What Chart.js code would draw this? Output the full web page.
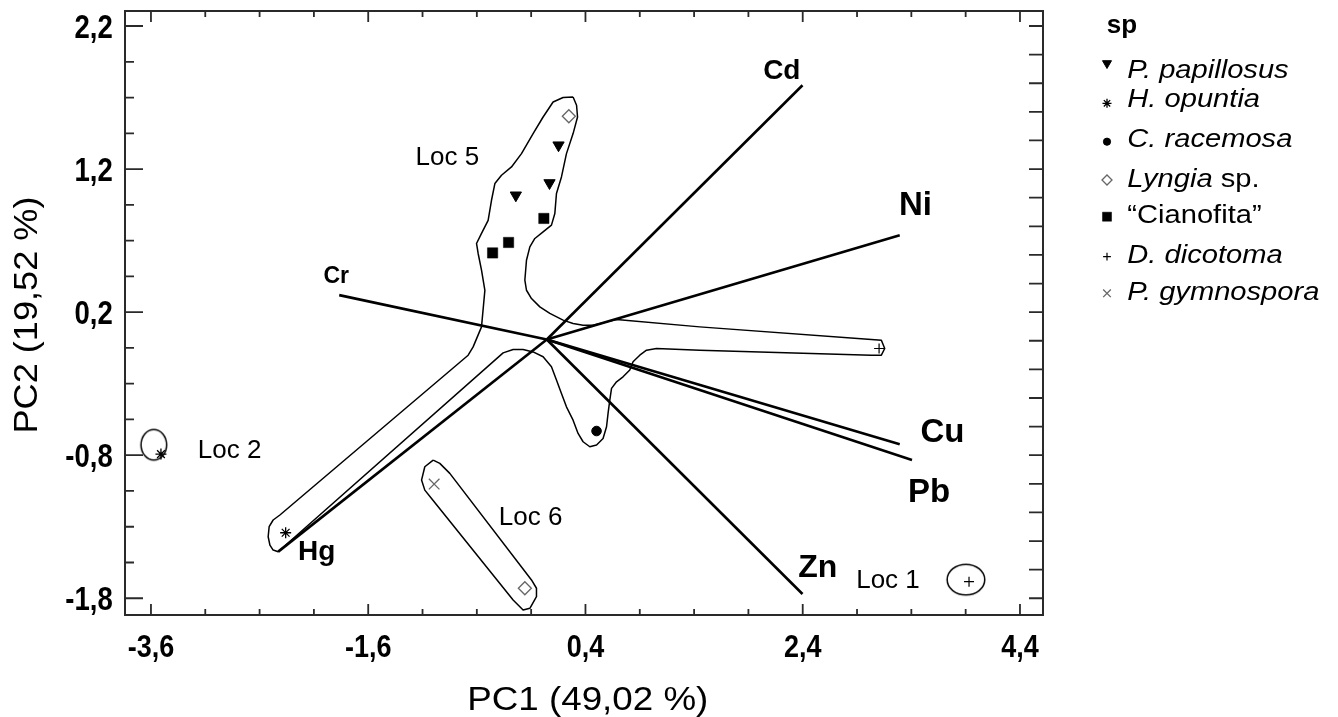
<!DOCTYPE html>
<html>
<head>
<meta charset="utf-8">
<script src="https://cdn.jsdelivr.net/npm/chart.js@4.4.1/dist/chart.umd.min.js"></script>
<style>
html,body{margin:0;padding:0;background:#fff;}
canvas{display:block;}
</style>
</head>
<body>
<canvas id="c" width="1338" height="717"></canvas>
<script>
// ---------------- data ----------------
const xTicks = [-3.6, -1.6, 0.4, 2.4, 4.4];
const yTicks = [2.2, 1.2, 0.2, -0.8, -1.8];
const xTitle = 'PC1 (49,02 %)';
const yTitle = 'PC2 (19,52 %)';
const legendTitle = 'sp';

const speciesNames = ['P. papillosus', 'H. opuntia', 'C. racemosa', 'Lyngia sp.', '\u201CCianofita\u201D', 'D. dicotoma', 'P. gymnospora'];
const papillosusX = [0.152, 0.069, -0.241];
const papillosusY = [1.367, 1.103, 1.017];
const opuntiaX = [-3.508, -2.360];
const opuntiaY = [-0.792, -1.342];
const racemosaX = [0.502];
const racemosaY = [-0.631];
const lyngiaX = [0.247, -0.158];
const lyngiaY = [1.569, -1.730];
const cianofitaX = [0.017, -0.308, -0.455];
const cianofitaY = [0.855, 0.687, 0.614];
const dicotomaX = [3.103, 3.931];
const dicotomaY = [-0.054, -1.684];
const gymnosporaX = [-0.993];
const gymnosporaY = [-1.002];

// variable loadings (vectors)
const variables = ['Cd', 'Ni', 'Cr', 'Cu', 'Pb', 'Zn', 'Hg'];
const loadX = [2.398, 3.293, -1.867, 3.293, 3.406, 2.398, -2.428];
const loadY = [1.786, 0.738, 0.319, -0.724, -0.834, -1.770, -1.474];
const originX = 0.044;
const originY = 0.009;

// group outlines
const loc5HullX = [0.286,0.318,0.327,0.286,0.225,0.179,0.133,0.118,0.087,0.010,-0.066,-0.112,-0.143,-0.158,-0.143,-0.097,-0.020,0.072,0.194,0.286,0.378,0.470,0.594,0.686,1.452,3.032,3.124,3.155,3.124,3.032,1.452,1.054,0.962,0.900,0.838,0.808,0.746,0.686,0.640,0.624,0.608,0.594,0.562,0.502,0.440,0.378,0.332,0.286,0.225,0.179,0.133,0.087,0.010,-0.082,-0.174,-0.266,-0.358,-2.429,-2.475,-2.505,-2.521,-2.512,-2.475,-2.413,-0.680,-0.634,-0.557,-0.526,-0.557,-0.588,-0.603,-0.557,-0.496,-0.465,-0.434,-0.373,-0.281,-0.189,-0.082,0.010,0.102,0.194];
const loc5HullY = [1.704,1.646,1.564,1.448,1.308,1.145,1.029,0.889,0.808,0.761,0.715,0.656,0.563,0.423,0.353,0.295,0.237,0.191,0.144,0.121,0.109,0.109,0.132,0.149,0.097,0.009,0.004,-0.054,-0.101,-0.101,-0.066,-0.054,-0.066,-0.101,-0.147,-0.205,-0.252,-0.287,-0.333,-0.415,-0.508,-0.601,-0.683,-0.729,-0.741,-0.706,-0.648,-0.555,-0.462,-0.368,-0.275,-0.182,-0.112,-0.078,-0.061,-0.061,-0.085,-1.475,-1.463,-1.428,-1.370,-1.300,-1.253,-1.218,-0.101,-0.043,0.097,0.353,0.493,0.610,0.680,0.750,0.842,0.982,1.099,1.157,1.215,1.308,1.448,1.564,1.669,1.700];
const loc6HullX = [-1.002,-0.941,-0.849,-0.097,-0.051,-0.051,-0.112,-0.174,-0.266,-1.017,-1.079,-1.109,-1.079];
const loc6HullY = [-0.834,-0.857,-0.927,-1.672,-1.730,-1.789,-1.870,-1.882,-1.812,-1.102,-1.044,-0.974,-0.881];
const locRingX = [-3.574, 3.902];
const locRingY = [-0.727, -1.670];

// location labels (centre x, baseline y in data units)
const locNames = ['Loc 5', 'Loc 2', 'Loc 6', 'Loc 1'];
const locLabelX = [-0.872, -2.876, -0.105, 3.185];
const locLabelY = [1.227, -0.822, -1.288, -1.730];

// ---------------- styles ----------------
const FONT = "'Liberation Sans', Arial, Helvetica, sans-serif";
const axisRange = {xMin: -3.839, xMax: 4.612, yMin: -1.917, yMax: 2.305};
const ringSize = [[12.8, 15.3], [18.8, 15.3]];
const vecLabelStyle = {
  Cd: {dx: -20.7, dy: -6.7, size: 28},
  Ni: {dx: 15.8, dy: -20, size: 33},
  Cr: {dx: -3, dy: -11.7, size: 23},
  Cu: {dx: 42.8, dy: -2.6, size: 33},
  Pb: {dx: 17.2, dy: 41.7, size: 33},
  Zn: {dx: 15.3, dy: -17.3, size: 32},
  Hg: {dx: 38.4, dy: 8.3, size: 28}
};
const tickLabelStyle = {
  y: {size: 34, sx: 0.81, right: 112.7, dy: 11.5},
  x: {size: 31, sx: 0.87, baseline: 656.7}
};
const speciesStyle = [
  {ps: 'triangle', rot: 180, r: 6.5, lr: 5.2, bg: '#000', bc: '#000', bw: 1},
  {ps: 'star', rot: 0, r: 5.5, lr: 4.5, bg: '#000', bc: '#000', bw: 1.3},
  {ps: 'circle', rot: 0, r: 4.8, lr: 3.6, bg: '#000', bc: '#000', bw: 1},
  {ps: 'rectRot', rot: 0, r: 6.5, lr: 5, bg: '#fff', bc: '#666', bw: 1.3},
  {ps: 'rect', rot: 0, r: 7.3, lr: 6.4, bg: '#000', bc: '#000', bw: 0.5},
  {ps: 'cross', rot: 0, r: 5, lr: 3.9, bg: '#000', bc: '#000', bw: 1.2},
  {ps: 'crossRot', rot: 0, r: 7.5, lr: 5.4, bg: '#666', bc: '#666', bw: 1.3}
];
const legendLayout = {
  titleX: 1106.7, titleY: 33.3,
  markerX: 1107,
  markerY: [63.3, 103.3, 141.7, 180, 216.7, 256.7, 293.3],
  textX: 1127.3,
  baseY: [78.3, 106.7, 146.7, 186.7, 223.3, 263.3, 300],
  size: 26, sx: 1.12
};
const legendParts = [
  [['P. papillosus', true]],
  [['H. opuntia', true]],
  [['C. racemosa', true]],
  [['Lyngia', true], [' sp.', false]],
  [['\u201CCianofita\u201D', false]],
  [['D. dicotoma', true]],
  [['P. gymnospora', true]]
];

// ---------------- helpers ----------------
function pts(xs, ys) { return xs.map((x, i) => ({x: x, y: ys[i]})); }
function closed(xs, ys) { const p = pts(xs, ys); p.push(p[0]); return p; }
function fmt(v) { return (Math.round(v * 10) / 10).toFixed(1).replace('.', ','); }
function ellipseImage(rx, ry) {
  const c = document.createElement('canvas');
  c.width = Math.ceil(2 * rx + 4);
  c.height = Math.ceil(2 * ry + 4);
  const g = c.getContext('2d');
  g.strokeStyle = '#000';
  g.lineWidth = 1.5;
  g.beginPath();
  g.ellipse(c.width / 2, c.height / 2, rx, ry, 0, 0, Math.PI * 2);
  g.stroke();
  return c;
}

const speciesX = [papillosusX, opuntiaX, racemosaX, lyngiaX, cianofitaX, dicotomaX, gymnosporaX];
const speciesY = [papillosusY, opuntiaY, racemosaY, lyngiaY, cianofitaY, dicotomaY, gymnosporaY];

const hullStyle = {showLine: true, borderColor: '#000', borderWidth: 1.5, pointRadius: 0, fill: false, tension: 0, borderJoinStyle: 'round'};

const datasets = [];
datasets.push(Object.assign({label: 'Loc 5 outline', data: closed(loc5HullX, loc5HullY)}, hullStyle));
datasets.push(Object.assign({label: 'Loc 6 outline', data: closed(loc6HullX, loc6HullY)}, hullStyle));
datasets.push({
  label: 'Loc rings', data: pts(locRingX, locRingY), showLine: false,
  pointStyle: ringSize.map(s => ellipseImage(s[0], s[1])), pointRadius: 10
});
variables.forEach((v, i) => {
  datasets.push({
    label: v, data: [{x: originX, y: originY}, {x: loadX[i], y: loadY[i]}],
    showLine: true, borderColor: '#000', borderWidth: 2.6, pointRadius: 0, borderCapStyle: 'butt'
  });
});
speciesNames.forEach((name, i) => {
  const s = speciesStyle[i];
  datasets.push({
    label: name, data: pts(speciesX[i], speciesY[i]), showLine: false,
    pointStyle: s.ps, rotation: s.rot, pointRadius: s.r,
    pointBackgroundColor: s.bg, pointBorderColor: s.bc, pointBorderWidth: s.bw,
    backgroundColor: s.bg, borderColor: s.bc
  });
});

// ---------------- plugins ----------------
const framePlugin = {
  id: 'frame',
  afterDatasetsDraw(chart) {
    const {ctx, chartArea: a, scales: {x, y}} = chart;
    ctx.save();
    ctx.strokeStyle = '#2a2a2a';
    ctx.lineWidth = 2;
    ctx.strokeRect(a.left, a.top, a.right - a.left, a.bottom - a.top);
    ctx.lineWidth = 1.8;
    ctx.beginPath();
    for (let k = 0; k <= 16; k++) {
      const py = y.getPixelForValue(2.2 - k * 0.25);
      const len = (k % 4 === 0) ? 18 : 9;
      ctx.moveTo(a.left, py); ctx.lineTo(a.left + len, py);
    }
    for (let k = 0; k <= 20; k++) {
      const py = y.getPixelForValue(-1.8 + k * 0.2);
      ctx.moveTo(a.right, py); ctx.lineTo(a.right - 14, py);
    }
    for (let k = 0; k <= 16; k++) {
      const px = x.getPixelForValue(-3.6 + k * 0.5);
      const len = (k % 4 === 0) ? 11 : 6;
      ctx.moveTo(px, a.bottom); ctx.lineTo(px, a.bottom - len);
      ctx.moveTo(px, a.top); ctx.lineTo(px, a.top + len);
    }
    ctx.stroke();
    ctx.restore();
  },
  afterDraw(chart) {
    const {ctx, scales: {x, y}} = chart;
    ctx.save();
    ctx.fillStyle = '#000';
    // tick labels (condensed bold, from the scales' own ticks)
    const ty = tickLabelStyle.y, tx = tickLabelStyle.x;
    ctx.font = 'bold ' + ty.size + 'px ' + FONT;
    ctx.textAlign = 'right';
    ctx.textBaseline = 'alphabetic';
    y.ticks.forEach(t => {
      ctx.save();
      ctx.translate(ty.right, y.getPixelForValue(t.value) + ty.dy);
      ctx.scale(ty.sx, 1);
      ctx.fillText(fmt(t.value), 0, 0);
      ctx.restore();
    });
    ctx.font = 'bold ' + tx.size + 'px ' + FONT;
    ctx.textAlign = 'center';
    x.ticks.forEach(t => {
      ctx.save();
      ctx.translate(x.getPixelForValue(t.value), tx.baseline);
      ctx.scale(tx.sx, 1);
      ctx.fillText(fmt(t.value), 0, 0);
      ctx.restore();
    });
    // vector labels
    variables.forEach((v, i) => {
      const st = vecLabelStyle[v];
      ctx.font = 'bold ' + st.size + 'px ' + FONT;
      ctx.fillText(v, x.getPixelForValue(loadX[i]) + st.dx, y.getPixelForValue(loadY[i]) + st.dy);
    });
    // location labels
    ctx.font = '26px ' + FONT;
    locNames.forEach((n, i) => {
      ctx.fillText(n, x.getPixelForValue(locLabelX[i]), y.getPixelForValue(locLabelY[i]));
    });
    // axis titles
    ctx.font = '34px ' + FONT;
    let w = ctx.measureText(xTitle).width;
    ctx.save();
    ctx.translate(587.8, 710);
    ctx.scale(241 / w, 1);
    ctx.fillText(xTitle, 0, 0);
    ctx.restore();
    w = ctx.measureText(yTitle).width;
    ctx.save();
    ctx.translate(37.3, 315);
    ctx.rotate(-Math.PI / 2);
    ctx.scale(237 / w, 1);
    ctx.fillText(yTitle, 0, 0);
    ctx.restore();
    // legend
    const L = legendLayout;
    ctx.textAlign = 'left';
    ctx.font = 'bold 26px ' + FONT;
    ctx.fillText(legendTitle, L.titleX, L.titleY);
    speciesNames.forEach((name, i) => {
      const s = speciesStyle[i];
      ctx.fillStyle = s.bg; ctx.strokeStyle = s.bc; ctx.lineWidth = s.bw;
      Chart.helpers.drawPoint(ctx, {pointStyle: s.ps, radius: s.lr, rotation: s.rot, borderWidth: s.bw}, L.markerX, L.markerY[i]);
      ctx.save();
      ctx.translate(L.textX, L.baseY[i]);
      ctx.scale(L.sx, 1);
      ctx.fillStyle = '#000';
      let cx = 0;
      legendParts[i].forEach(p => {
        ctx.font = (p[1] ? 'italic ' : '') + L.size + 'px ' + FONT;
        ctx.fillText(p[0], cx, 0);
        cx += ctx.measureText(p[0]).width;
      });
      ctx.restore();
    });
    ctx.restore();
  }
};

// ---------------- chart ----------------
new Chart(document.getElementById('c'), {
  type: 'scatter',
  data: {datasets: datasets},
  options: {
    responsive: false,
    animation: false,
    devicePixelRatio: 1,
    layout: {padding: {left: 0, right: 295, top: 10.7, bottom: 0}},
    plugins: {legend: {display: false}, tooltip: {enabled: false}, title: {display: false}},
    elements: {line: {tension: 0}},
    scales: {
      x: {
        type: 'linear', position: 'bottom',
        min: axisRange.xMin, max: axisRange.xMax,
        grid: {display: false, drawTicks: false},
        border: {display: false},
        title: {display: false},
        afterBuildTicks: s => { s.ticks = xTicks.map(v => ({value: v})); },
        afterFit: s => { s.height = 102; s.paddingLeft = 0; s.paddingRight = 0; },
        ticks: {display: false, autoSkip: false, callback: v => fmt(v)}
      },
      y: {
        type: 'linear', position: 'left',
        min: axisRange.yMin, max: axisRange.yMax,
        grid: {display: false, drawTicks: false},
        border: {display: false},
        title: {display: false},
        afterBuildTicks: s => { s.ticks = yTicks.map(v => ({value: v})); },
        afterFit: s => { s.width = 125; s.paddingTop = 0; s.paddingBottom = 0; },
        ticks: {display: false, autoSkip: false, callback: v => fmt(v)}
      }
    }
  },
  plugins: [framePlugin]
});
</script>
</body>
</html>
